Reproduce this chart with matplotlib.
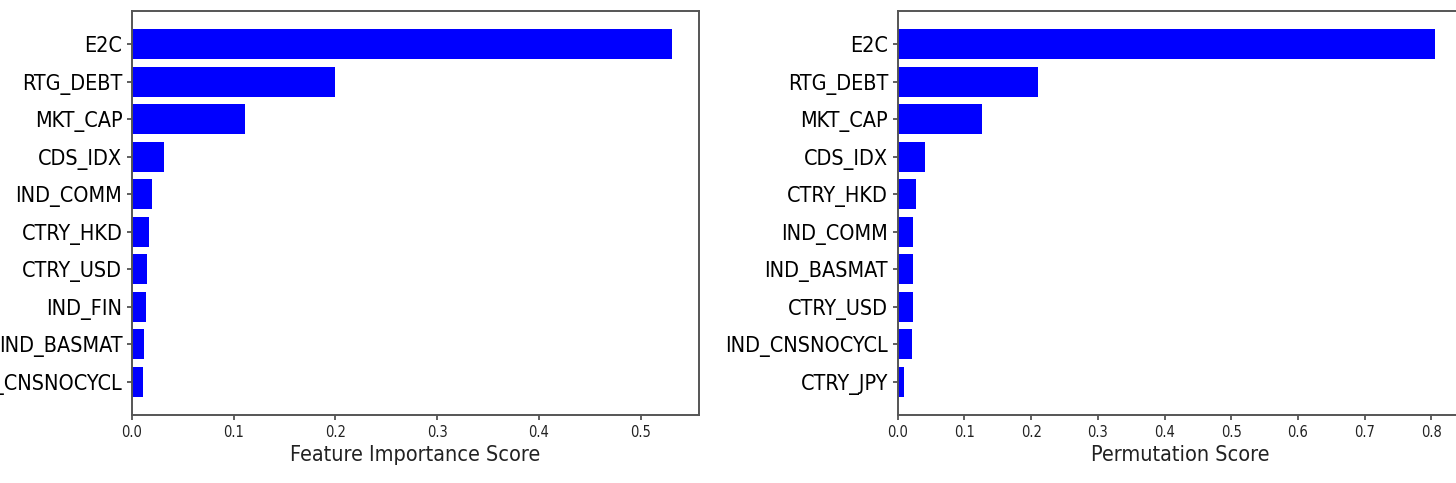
import matplotlib
matplotlib.use('Agg')
import matplotlib.pyplot as plt

# feature importance (left panel), top to bottom
fi_features = ['E2C', 'RTG_DEBT', 'MKT_CAP', 'CDS_IDX', 'IND_COMM',
               'CTRY_HKD', 'CTRY_USD', 'IND_FIN', 'IND_BASMAT', 'IND_CNSNOCYCL']
fi_scores = [0.531, 0.200, 0.111, 0.0315, 0.020,
             0.0167, 0.015, 0.0135, 0.012, 0.011]

# permutation importance (right panel), top to bottom
perm_features = ['E2C', 'RTG_DEBT', 'MKT_CAP', 'CDS_IDX', 'CTRY_HKD',
                 'IND_COMM', 'IND_BASMAT', 'CTRY_USD', 'IND_CNSNOCYCL', 'CTRY_JPY']
perm_scores = [0.806, 0.211, 0.126, 0.0414, 0.0279,
               0.0234, 0.0225, 0.0225, 0.0215, 0.0095]

plt.rcParams['font.family'] = ['DejaVu Sans']
plt.rcParams['font.stretch'] = 'condensed'

fig = plt.figure(figsize=(14.56, 4.83), dpi=100)
ax1 = fig.add_axes([0.0907, 0.1408, 0.3894, 0.8364])
ax2 = fig.add_axes([0.6166, 0.1408, 0.3876, 0.8364])

for ax, feats, vals, xlab in [(ax1, fi_features, fi_scores, 'Feature Importance Score'),
                              (ax2, perm_features, perm_scores, 'Permutation Score')]:
    # reverse so the largest bar sits on top
    ax.barh(feats[::-1], vals[::-1], color='blue', height=0.8)
    ax.tick_params(axis='y', labelsize=15.5, color='#444444', width=1.2)
    ax.tick_params(axis='x', labelsize=10.5, color='#444444', width=1.2, labelcolor='#222222')
    ax.set_xlabel(xlab, fontsize=15.5, color='#222222')
    for sp in ax.spines.values():
        sp.set_color('#555555')
        sp.set_linewidth(1.4)

ax1.set_xticks([0.0, 0.1, 0.2, 0.3, 0.4, 0.5])
ax2.set_xticks([0.0, 0.1, 0.2, 0.3, 0.4, 0.5, 0.6, 0.7, 0.8])

fig.savefig('out.png', dpi=100)
